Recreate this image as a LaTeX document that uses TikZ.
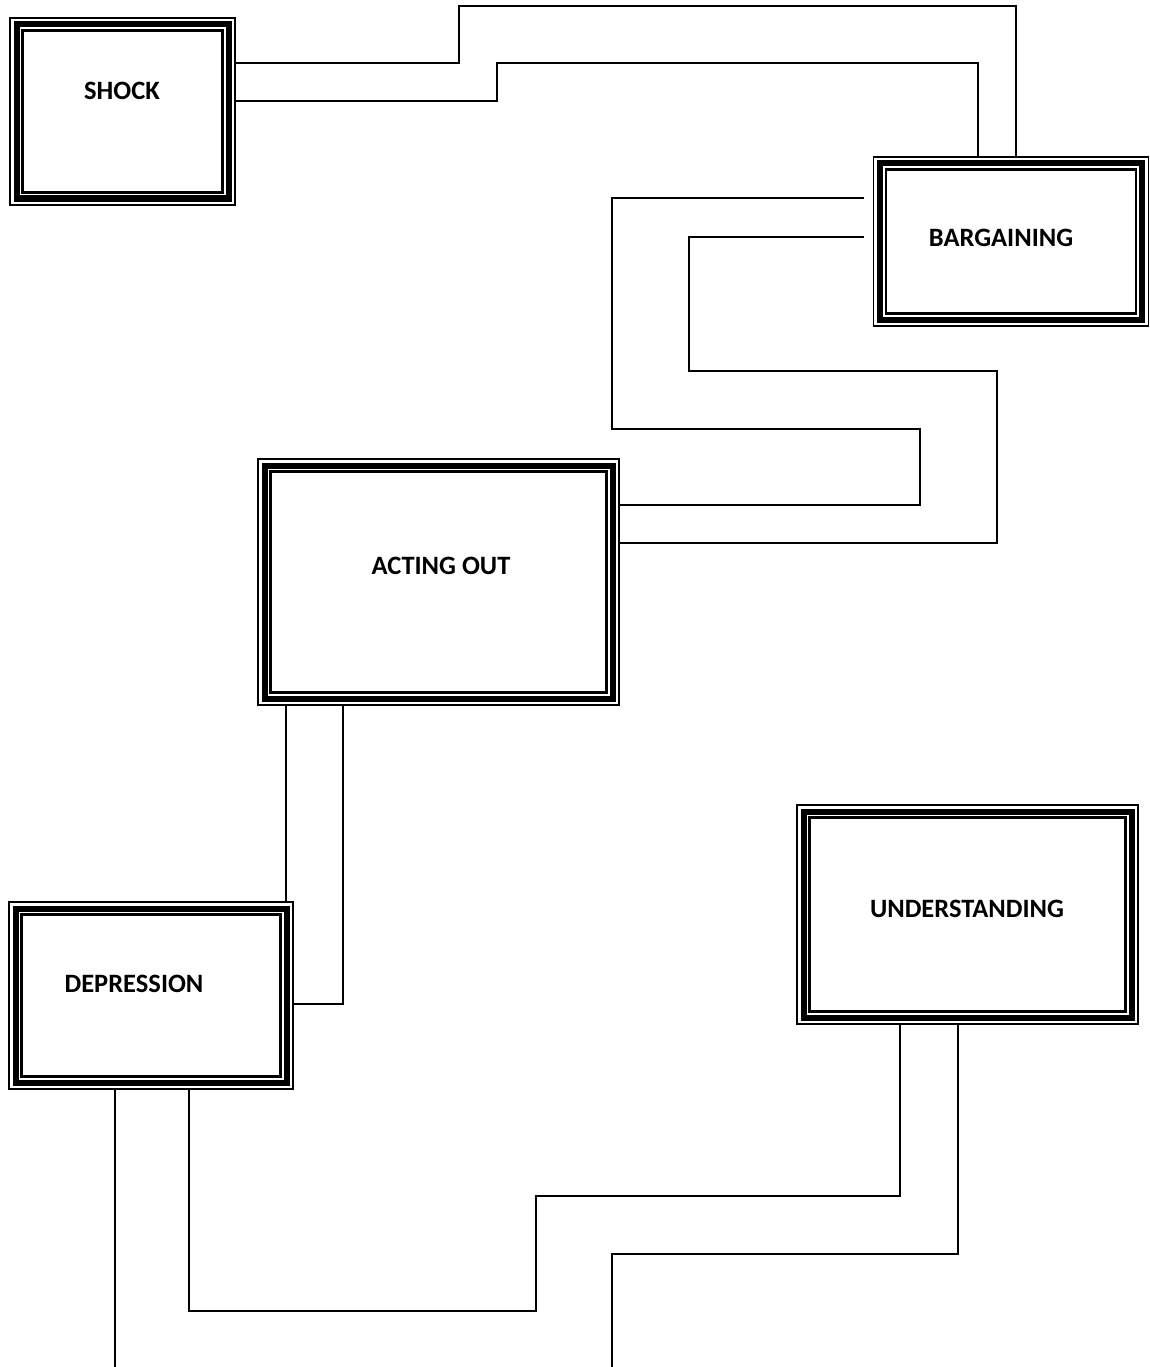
\documentclass[tikz,border=0pt]{standalone}
\usepackage{fontspec}
\setmainfont{Carlito}
\begin{document}
\begin{tikzpicture}[x=1pt,y=-1pt,
  conn/.style={line width=1.7pt},
  outerbox/.style={draw, line width=1.6pt, inner sep=0pt, outer sep=0pt},
  thickbox/.style={line width=6pt},
  thinbox/.style={line width=2.2pt},
  lbl/.style={font=\bfseries\fontsize{26.5}{31}\selectfont, inner sep=0pt}]
\useasboundingbox (0,0) rectangle (1149,1367);
\newcommand\tribox[5]{%
  \node[outerbox, minimum width=#3pt, minimum height=#4pt] (#1) at (#2) {};
  \draw[thickbox] ([shift={(6.5,6.5)}]#1.north west) rectangle ([shift={(-6.5,-6.5)}]#1.south east);
  \draw[thinbox] ([shift={(12.5,12.5)}]#1.north west) rectangle ([shift={(-12.5,-12.5)}]#1.south east);
}
\tribox{shock}{122.5,111.5}{225}{187}{}
\tribox{barg}{1011,241.5}{275}{169}{}
\tribox{acting}{438.5,582}{361}{246}{}
\tribox{depr}{151,995.5}{284}{187}{}
\tribox{under}{967.5,914.5}{341}{219}{}
\node[lbl] (tshock) at (122,91) {SHOCK};
\node[lbl] (tbarg) at (1001,238) {BARGAINING};
\node[lbl] (tacting) at (441,566) {ACTING OUT};
\node[lbl] (tdepr) at (134,984) {DEPRESSION};
\node[lbl] (tunder) at (967,909) {UNDERSTANDING};
\coordinate (bl) at ([xshift=-10pt]barg.west);
% shock -> bargaining
\draw[conn] (shock.east |- 0,63) -| (459,6) -| (barg.north -| 1016,0);
\draw[conn] (shock.east |- 0,101) -| (497,63) -| (barg.north -| 978,0);
% bargaining -> acting out
\draw[conn] (bl |- 0,198) -| (612,429) -| (920,505) -- (acting.east |- 0,505);
\draw[conn] (bl |- 0,237) -| (689,371) -| (997,543) -- (acting.east |- 0,543);
% acting out -> depression
\draw[conn] (acting.south -| 286,0) -- (depr.north -| 286,0);
\draw[conn] (acting.south -| 343,0) |- (depr.east |- 0,1004);
% depression -> bottom / understanding
\coordinate (endA) at (115,1367);
\coordinate (endB) at (612,1367);
\draw[conn] (depr.south -| 115,0) -- (endA);
\draw[conn] (depr.south -| 189,0) |- (536,1311) |- (900,1196) -- (under.south -| 900,0);
\draw[conn] (under.south -| 958,0) |- (612,1254) -- (endB);
\end{tikzpicture}
\end{document}
